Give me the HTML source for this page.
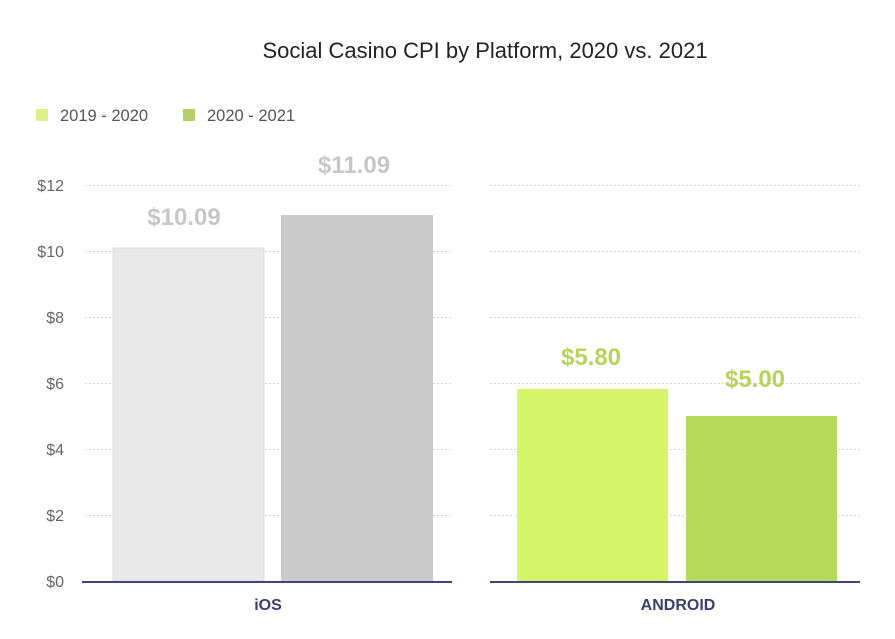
<!DOCTYPE html>
<html><head><meta charset="utf-8"><style>
body{margin:0;background:#fff;}
svg{display:block;font-family:"Liberation Sans",sans-serif;}
</style></head><body>
<svg width="895" height="639" viewBox="0 0 895 639">
<text x="485" y="58" text-anchor="middle" font-size="22" fill="#222">Social Casino CPI by Platform, 2020 vs. 2021</text>
<rect x="36" y="109" width="12" height="12" fill="#dbef8a"/>
<text x="60" y="121" font-size="16.5" fill="#555">2019 - 2020</text>
<rect x="183" y="109" width="12" height="12" fill="#b5cf6a"/>
<text x="207" y="121" font-size="16.5" fill="#555">2020 - 2021</text>
<g font-size="16" fill="#666" text-anchor="end">
<text x="64" y="191">$12</text><text x="64" y="257">$10</text><text x="64" y="323">$8</text>
<text x="64" y="389">$6</text><text x="64" y="455">$4</text><text x="64" y="521">$2</text><text x="64" y="587">$0</text>
</g>
<g stroke="#d4d4d4" stroke-dasharray="2,2" stroke-width="1">
<line x1="85" x2="452" y1="185.5" y2="185.5"/><line x1="85" x2="452" y1="251.5" y2="251.5"/>
<line x1="85" x2="452" y1="317.5" y2="317.5"/><line x1="85" x2="452" y1="383.5" y2="383.5"/>
<line x1="85" x2="452" y1="449.5" y2="449.5"/><line x1="85" x2="452" y1="515.5" y2="515.5"/>
<line x1="490" x2="860" y1="185.5" y2="185.5"/><line x1="490" x2="860" y1="251.5" y2="251.5"/>
<line x1="490" x2="860" y1="317.5" y2="317.5"/><line x1="490" x2="860" y1="383.5" y2="383.5"/>
<line x1="490" x2="860" y1="449.5" y2="449.5"/><line x1="490" x2="860" y1="515.5" y2="515.5"/>
</g>
<rect x="113" y="248" width="151" height="333" fill="#e8e8e8" stroke="#ddd"/>
<rect x="281" y="215" width="152" height="366" fill="#cacaca"/>
<rect x="517" y="389" width="151" height="192" fill="#d6f46a"/>
<rect x="686" y="416" width="151" height="165" fill="#b7d95a"/>
<line x1="82" x2="452" y1="582" y2="582" stroke="#3d4677" stroke-width="2"/>
<line x1="490" x2="860" y1="582" y2="582" stroke="#3d4677" stroke-width="2"/>
<g font-size="24" font-weight="bold" text-anchor="middle">
<text x="184" y="225" fill="#c6c6c6">$10.09</text>
<text x="354" y="173" fill="#c6c6c6">$11.09</text>
<text x="591" y="365" fill="#b5d45a">$5.80</text>
<text x="755" y="387" fill="#b5d45a">$5.00</text>
</g>
<text x="268" y="610" font-size="16" font-weight="bold" fill="#3a3f6b" text-anchor="middle">iOS</text>
<text x="678" y="610" font-size="16" font-weight="bold" fill="#3a3f6b" text-anchor="middle">ANDROID</text>
</svg>
</body></html>
